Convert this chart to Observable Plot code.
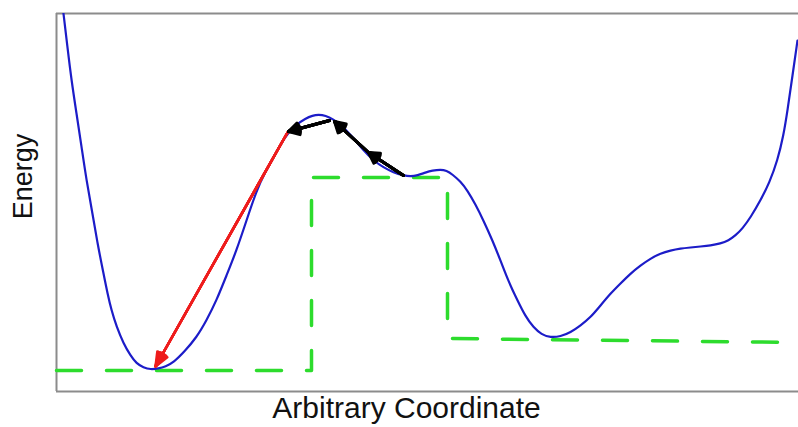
<!DOCTYPE html>
<html><head><meta charset="utf-8">
<script src="https://cdn.jsdelivr.net/npm/d3@7"></script>
<script src="https://cdn.jsdelivr.net/npm/@observablehq/plot@0.6"></script>
<style>body{margin:0;background:#fff} svg{display:block}</style>
</head><body><div id="chart"></div>
<script>
// Potential energy curve (arbitrary units)
const coordinate = [6,7,11,15,20,25,30,36,41,47,51,55,60,67,74,80,87,94,102,109,117,128,140,150,160,170,180,190,200,209,217,224,232,240,249,256,262,269,277,284,294,307,317,327,337,347,354,361,369,376,384,390,396,404,411,419,427,436,444,452,461,469,477,485,494,504,514,524,534,544,554,564,574,584,594,604,614,624,634,644,654,664,672,679,686,694,704,713,721,727,731,736,741];
const energy = [386,378,344,311,278,245,211,178,148,118,98,81,65,48,36,28,24,22,23,25,29,40,54,71,91,116,141,171,201,220,234,247,259,267,273,276,277,276,272,267,257,241,231,224,219,216,215,216,219,221,222,221,217,210,201,187,171,151,131,110,91,75,64,57,54,55,59,66,74,86,98,108,118,126,133,138,141,143,144,145,146,148,151,156,163,174,191,209,231,256,281,316,351];
// Dashed green step profile
const stepCoordinate = [0,255,255,391,391,742];
const stepEnergy = [21,21,214,214,53,49];
// Black arrows (small steps uphill)
const blackX1 = [347,312,273];
const blackY1 = [216,239,271];
const blackX2 = [312,278,232];
const blackY2 = [239,270,260];
// Red arrow (drop into the well)
const redX1 = [231], redY1 = [259], redX2 = [99], redY2 = [25];

const xDomain = [0,742], yDomain = [0,378];
const curve = coordinate.map((c,i)=>({x:c,y:energy[i]}));
const step = stepCoordinate.map((c,i)=>({x:c,y:stepEnergy[i]}));
const black = blackX1.map((v,i)=>({x1:v,y1:blackY1[i],x2:blackX2[i],y2:blackY2[i]}));
const red = redX1.map((v,i)=>({x1:v,y1:redY1[i],x2:redX2[i],y2:redY2[i]}));

function arrows(data, color, sw, hl, angles){
  return angles.map(a => Plot.arrow(data, {x1:"x1",y1:"y1",x2:"x2",y2:"y2",stroke:color,strokeWidth:sw,headLength:hl,headAngle:a}));
}

const chart = Plot.plot({
  width: 798, height: 427,
  marginLeft: 56, marginRight: 0, marginTop: 13, marginBottom: 36,
  style: {fontFamily: "'Liberation Sans', Arial, sans-serif", background: "#fff"},
  x: {domain: xDomain, axis: null},
  y: {domain: yDomain, axis: null},
  marks: [
    Plot.ruleY(yDomain, {stroke: "#8c8c8c", strokeWidth: 2}),
    Plot.ruleX([xDomain[0]], {stroke: "#8c8c8c", strokeWidth: 2}),
    Plot.line(step, {x:"x", y:"y", stroke:"#2ddc2d", strokeWidth:3.5, strokeDasharray:"25,25"}),
    Plot.line(curve, {x:"x", y:"y", stroke:"#1c1cc8", strokeWidth:2.2, curve:"basis", clip:true}),
    ...arrows(red, "#ee1c1c", 2.5, 9, [45,34,24,14,5]),
    ...arrows(black, "#000", 3, 6, [60,45,30,15,3]),
    Plot.text(["Arbitrary Coordinate"], {frameAnchor:"bottom", dy:17, dx:-21, lineAnchor:"middle", fontSize:30, fill:"#111"}),
    Plot.text(["Energy"], {frameAnchor:"left", dx:-33, dy:-26, rotate:-90, textAnchor:"middle", lineAnchor:"middle", fontSize:27, fill:"#111"})
  ]
});
document.getElementById("chart").append(chart);
</script></body></html>
